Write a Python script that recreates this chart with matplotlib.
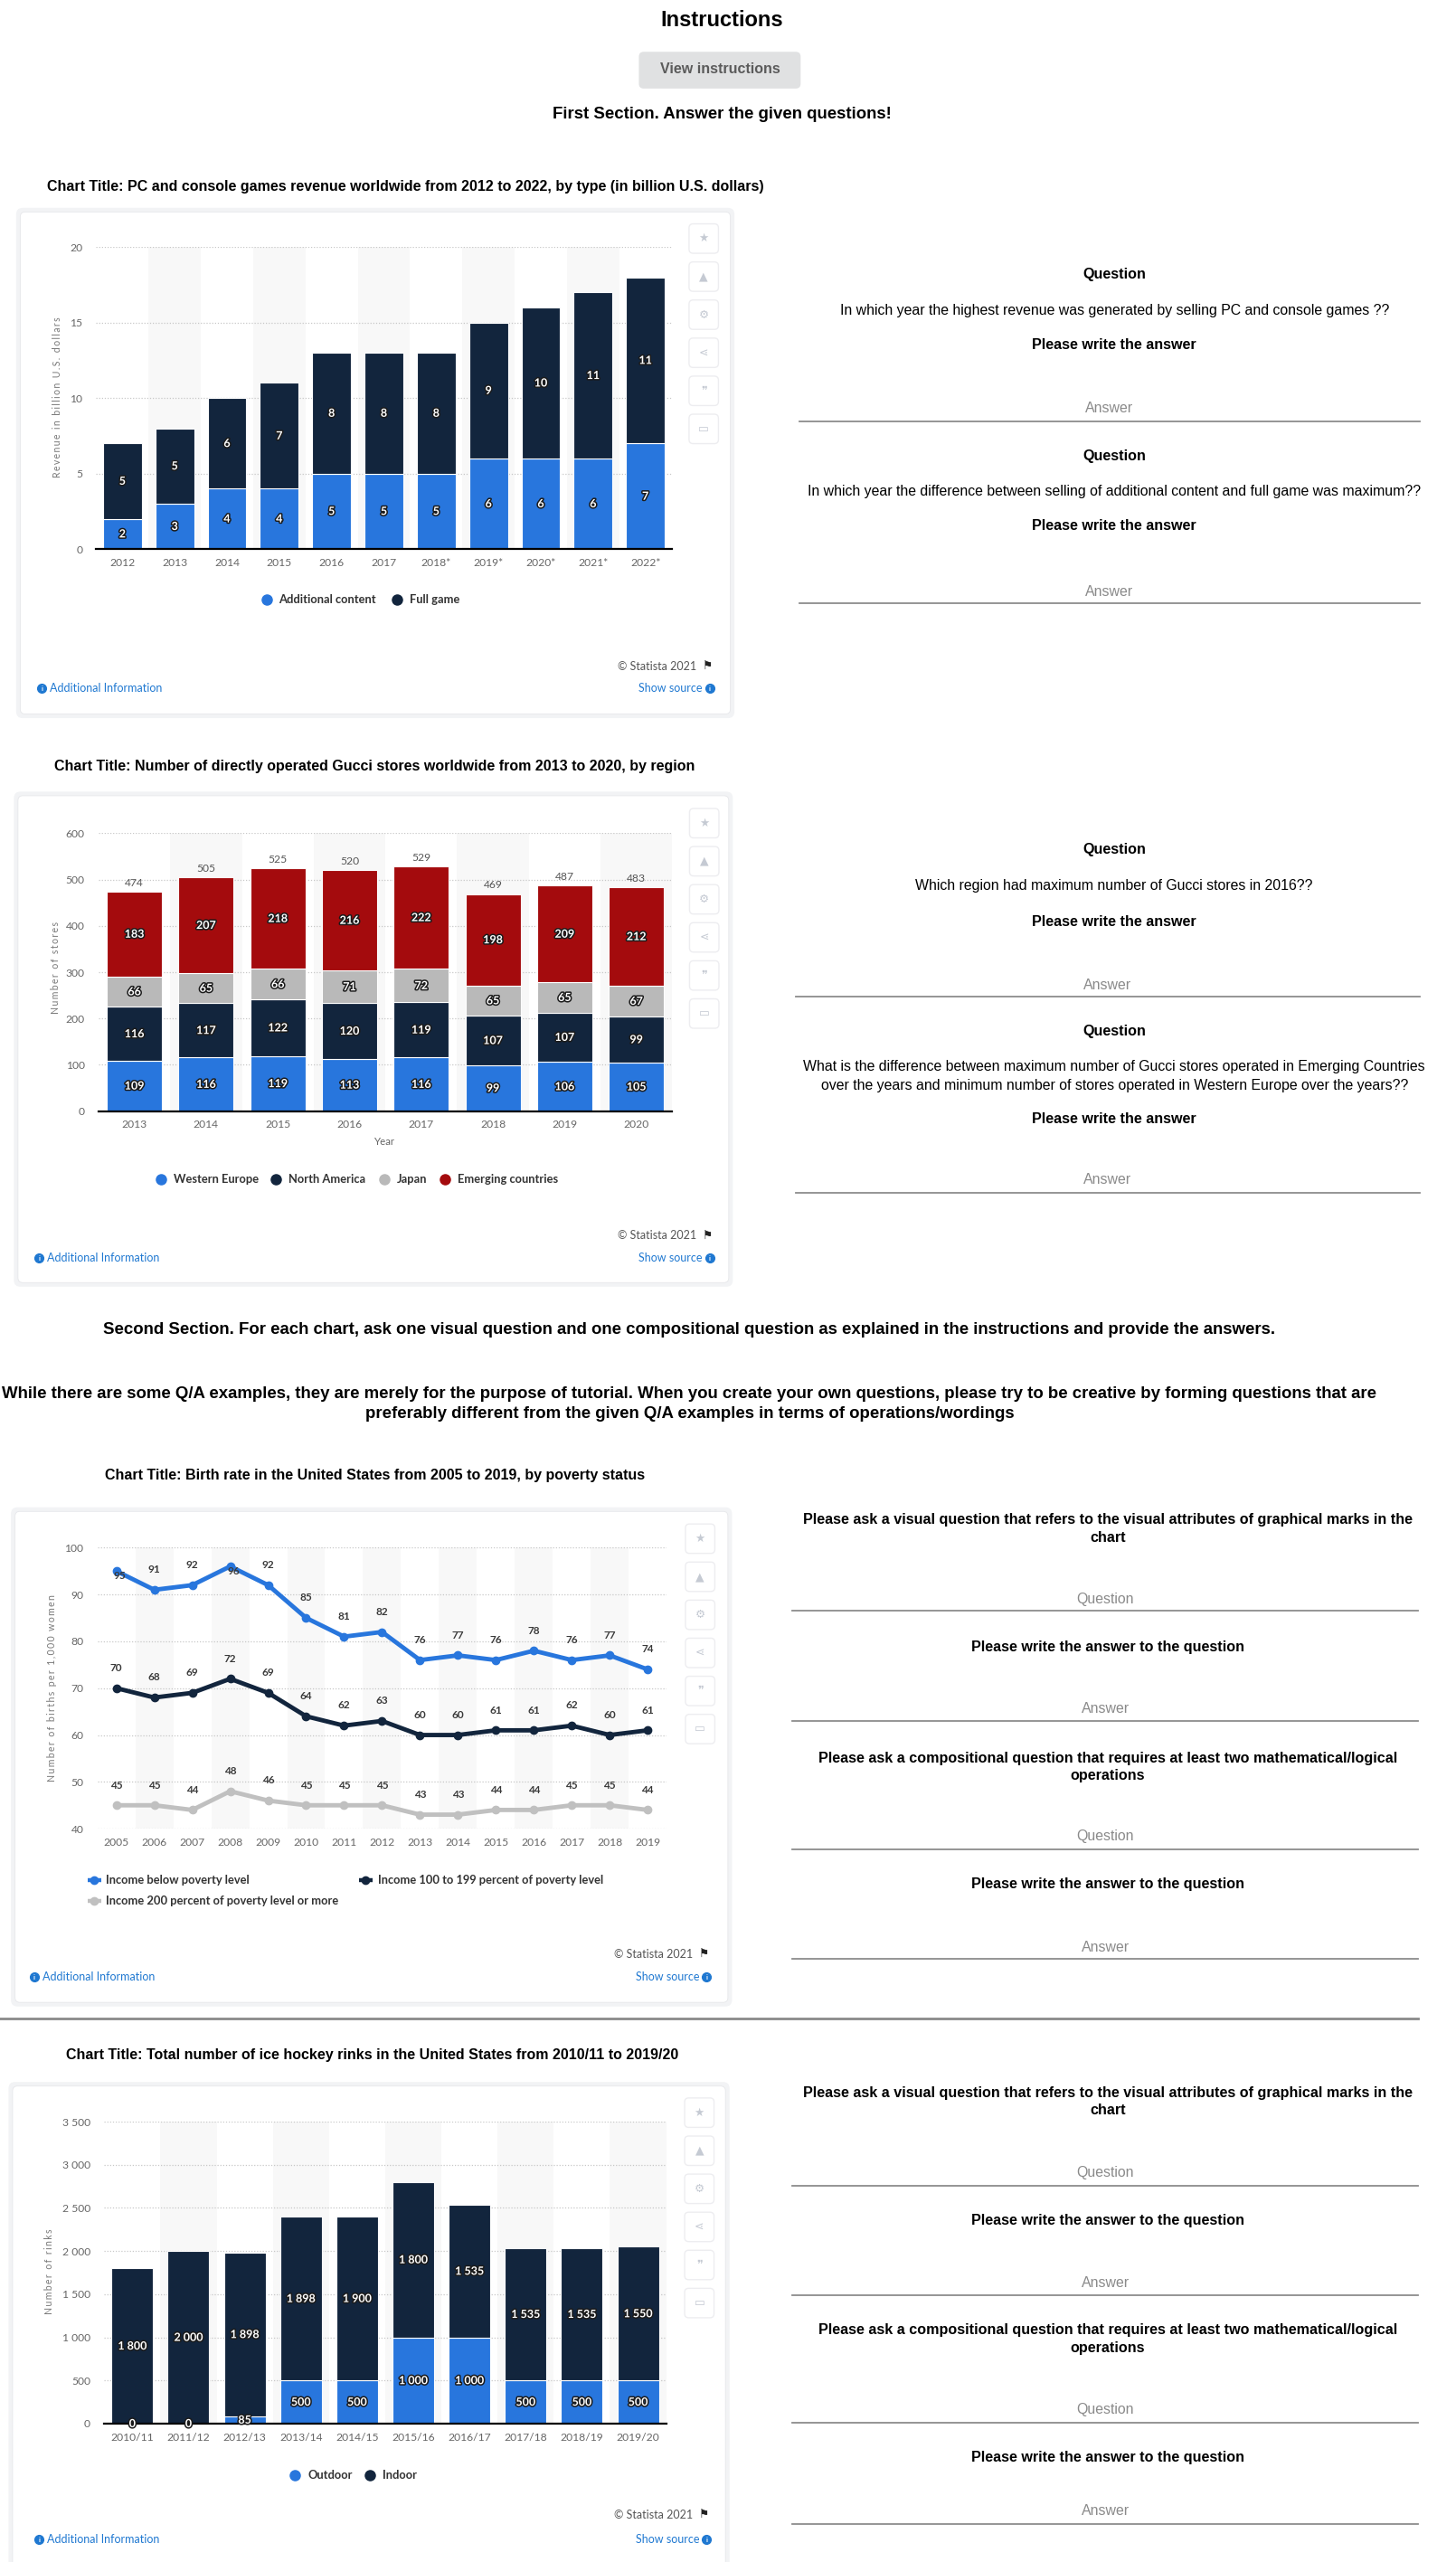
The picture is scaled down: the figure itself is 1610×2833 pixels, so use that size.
import matplotlib
matplotlib.use('Agg')
import matplotlib.pyplot as plt
from matplotlib.patches import FancyBboxPatch
import matplotlib.patheffects as pe

# ---------------- data ----------------
games_years = ['2012', '2013', '2014', '2015', '2016', '2017', '2018*', '2019*', '2020*', '2021*', '2022*']
games_additional = [2, 3, 4, 4, 5, 5, 5, 6, 6, 6, 7]
games_full = [5, 5, 6, 7, 8, 8, 8, 9, 10, 11, 11]

gucci_years = ['2013', '2014', '2015', '2016', '2017', '2018', '2019', '2020']
gucci_western_europe = [109, 116, 119, 113, 116, 99, 106, 105]
gucci_north_america = [116, 117, 122, 120, 119, 107, 107, 99]
gucci_japan = [66, 65, 66, 71, 72, 65, 65, 67]
gucci_emerging = [183, 207, 218, 216, 222, 198, 209, 212]

birth_years = ['2005', '2006', '2007', '2008', '2009', '2010', '2011', '2012',
               '2013', '2014', '2015', '2016', '2017', '2018', '2019']
birth_below = [95, 91, 92, 96, 92, 85, 81, 82, 76, 77, 76, 78, 76, 77, 74]
birth_100_199 = [70, 68, 69, 72, 69, 64, 62, 63, 60, 60, 61, 61, 62, 60, 61]
birth_200_plus = [45, 45, 44, 48, 46, 45, 45, 45, 43, 43, 44, 44, 45, 45, 44]

rink_seasons = ['2010/11', '2011/12', '2012/13', '2013/14', '2014/15',
                '2015/16', '2016/17', '2017/18', '2018/19', '2019/20']
rink_outdoor = [0, 0, 85, 500, 500, 1000, 1000, 500, 500, 500]
rink_indoor = [1800, 2000, 1898, 1898, 1900, 1800, 1535, 1535, 1535, 1550]

# ---------------- style ----------------
BLUE = '#2876dd'
NAVY = '#12253d'
GRAY = '#b9b9b9'
RED = '#a40b0d'
LINE_GRAY = '#c0c0c0'
LINK = '#1f78d1'
PAGE_FONT = ['Liberation Sans', 'DejaVu Sans']
CHART_FONT = ['Lato', 'DejaVu Sans']
SYM_FONT = ['DejaVu Sans']

W, H = 891.1, 1568.0
fig = plt.figure(figsize=(16.1, 28.33), dpi=100)
fig.patch.set_facecolor('white')

bg = fig.add_axes([0, 0, 1, 1])
bg.set_xlim(0, W)
bg.set_ylim(H, 0)
bg.axis('off')

Q_BOLD = 11.6
Q_REG = 11.4


def T(x, y, s, size=Q_REG, weight='normal', color='black', ha='center', va='center',
      family=PAGE_FONT, **kw):
    return bg.text(x, y, s, fontsize=size, fontweight=weight, color=color, ha=ha, va=va,
                   family=family, **kw)


def make_axes(x0, x1, ytop, ybot):
    ax = fig.add_axes([x0 / W, 1 - ybot / H, (x1 - x0) / W, (ybot - ytop) / H])
    ax.set_facecolor('none')
    return ax


def style_axes(ax, yticks, ylabels, xlabels, baseline=True):
    for s in ['top', 'right', 'left']:
        ax.spines[s].set_visible(False)
    if baseline:
        ax.spines['bottom'].set_color('black')
        ax.spines['bottom'].set_linewidth(1.6)
        ax.spines['bottom'].set_zorder(5)
    else:
        ax.spines['bottom'].set_visible(False)
    ax.set_yticks(yticks)
    ax.set_yticklabels(ylabels, family=CHART_FONT)
    ax.set_xticks(range(len(xlabels)))
    ax.set_xticklabels(xlabels, family=CHART_FONT)
    ax.tick_params(axis='y', length=0, pad=11, colors='#666666', labelsize=8.7)
    ax.tick_params(axis='x', length=0, pad=7, colors='#666666', labelsize=8.7)
    ax.grid(axis='y', linestyle=(0, (1, 1.5)), color='#c8c8c8', linewidth=0.9)
    ax.set_axisbelow(True)
    for i in range(len(xlabels)):
        if i % 2 == 1:
            ax.axvspan(i - 0.5, i + 0.5, color='#f8f8f8', zorder=0, lw=0)


def card(x0, y0, x1, y1):
    bg.add_patch(FancyBboxPatch((x0 - 2.5, y0 - 2.5), x1 - x0 + 5, y1 - y0 + 5,
                                boxstyle='round,pad=0,rounding_size=4', fc='#f2f3f5', ec='none'))
    bg.add_patch(FancyBboxPatch((x0, y0), x1 - x0, y1 - y0,
                                boxstyle='round,pad=0,rounding_size=3', fc='white', ec='#e6e7ea', lw=0.6))


def icons(xc, ys):
    glyphs = ['\u2605', '\u25B2', '\u2699', '\u22D6', '\u275E', '\u25AD']
    for y, g in zip(ys, glyphs):
        bg.add_patch(FancyBboxPatch((xc - 9, y - 9), 18, 18,
                                    boxstyle='round,pad=0,rounding_size=2.5', fc='white',
                                    ec='#ededf0', lw=1.0))
        T(xc, y, g, size=9, color='#c5cad3', family=SYM_FONT)


def info_icon(x, y):
    bg.plot([x], [y], 'o', ms=7, color=LINK, zorder=5)
    T(x, y + 0.3, 'i', size=5.5, weight='bold', color='white', family=CHART_FONT, zorder=6)


def footer(xl, xr, y_stat, y_info):
    T(xr - 9, y_stat, '\u00a9 Statista 2021', size=9, color='#555555', ha='right', family=CHART_FONT)
    T(xr + 1, y_stat, '\u2691', size=9, color='#222222', ha='right', family=SYM_FONT)
    info_icon(xl, y_info)
    T(xl + 5, y_info, 'Additional Information', size=9, color=LINK, ha='left', family=CHART_FONT)
    T(xr - 5, y_info, 'Show source', size=9, color=LINK, ha='right', family=CHART_FONT)
    info_icon(xr - 0.5, y_info)


def dot_legend(items, y):
    for x, color, label in items:
        bg.plot([x], [y], 'o', ms=8, color=color)
        T(x + 7.5, y, label, size=9.3, weight='bold', color='#333333', ha='left', family=CHART_FONT)


def spaced(s):
    return '\u2009'.join(s)


def ylabel(x, y, s):
    T(x, y, spaced(s), size=7.6, color='#777777', rotation=90, family=CHART_FONT)


def field(x0, x1, y_text, y_line, placeholder):
    T((x0 + x1) / 2, y_text, placeholder, size=Q_REG, color='#8a8a8a')
    bg.plot([x0, x1], [y_line, y_line], color='#8c8c8c', lw=1.3)


STROKE = [pe.withStroke(linewidth=2.2, foreground='#1b1b1b')]


def seg_label(ax, x, y, s):
    ax.text(x, y, s, ha='center', va='center', color='white', fontsize=9, fontweight='bold',
            family=CHART_FONT, path_effects=STROKE, zorder=6, clip_on=False)


def fmt_thousands(v):
    return '{:,}'.format(v).replace(',', ' ')


# ---------------- header ----------------
T(442, 12.3, 'Instructions', size=17, weight='bold')
bg.add_patch(FancyBboxPatch((391, 31.7), 99, 22.5, boxstyle='round,pad=0,rounding_size=3',
                            fc='#e0e1e2', ec='none'))
T(441, 42.5, 'View instructions', size=11.5, weight='bold', color='#5b5b5b')
T(442, 70, 'First Section. Answer the given questions!', size=13.4, weight='bold')

# ---------------- chart 1 ----------------
T(29, 114.4, 'Chart Title: PC and console games revenue worldwide from 2012 to 2022, by type (in billion U.S. dollars)',
  size=11.5, weight='bold', ha='left')
card(12.4, 129.7, 447, 437)
ax1 = make_axes(58.9, 411, 151.2, 336)
ax1.set_xlim(-0.5, 10.5)
ax1.set_ylim(0, 20)
style_axes(ax1, [0, 5, 10, 15, 20], ['0', '5', '10', '15', '20'], games_years)
x1 = list(range(len(games_years)))
ax1.bar(x1, games_additional, 0.74, color=BLUE, edgecolor='white', linewidth=0.8, zorder=2)
ax1.bar(x1, games_full, 0.74, bottom=games_additional, color=NAVY, edgecolor='white', linewidth=0.8, zorder=2)
for i in x1:
    seg_label(ax1, i, games_additional[i] / 2, str(games_additional[i]))
    seg_label(ax1, i, games_additional[i] + games_full[i] / 2, str(games_full[i]))
ylabel(35.3, 243, 'Revenue in billion U.S. dollars')
dot_legend([(163, BLUE, 'Additional content'), (243, NAVY, 'Full game')], 367)
icons(430.7, [146, 169.3, 192.6, 215.9, 239.2, 262.5])
footer(25.6, 435, 407.7, 421)

# right side Q&A 1
T(682, 168, 'Question', size=Q_BOLD, weight='bold')
T(682, 190, 'In which year the highest revenue was generated by selling PC and console games ??')
T(682, 211, 'Please write the answer', size=Q_BOLD, weight='bold')
field(489, 869, 250, 258, 'Answer')
T(682, 279, 'Question', size=Q_BOLD, weight='bold')
T(682, 301, 'In which year the difference between selling of additional content and full game was maximum??')
T(682, 322, 'Please write the answer', size=Q_BOLD, weight='bold')
field(489, 869, 362, 369, 'Answer')

# ---------------- chart 2 ----------------
T(33, 469, 'Chart Title: Number of directly operated Gucci stores worldwide from 2013 to 2020, by region',
  size=11.5, weight='bold', ha='left')
card(11, 487, 446, 785)
ax2 = make_axes(60.3, 411.4, 510, 680)
ax2.set_xlim(-0.5, 7.5)
ax2.set_ylim(0, 600)
style_axes(ax2, [0, 100, 200, 300, 400, 500, 600], ['0', '100', '200', '300', '400', '500', '600'], gucci_years)
x2 = list(range(len(gucci_years)))
bottom = [0] * len(x2)
for vals, color in [(gucci_western_europe, BLUE), (gucci_north_america, NAVY),
                    (gucci_japan, GRAY), (gucci_emerging, RED)]:
    ax2.bar(x2, vals, 0.77, bottom=bottom, color=color, edgecolor='white', linewidth=0.8, zorder=2)
    for i in x2:
        seg_label(ax2, i, bottom[i] + vals[i] / 2, str(vals[i]))
    bottom = [b + v for b, v in zip(bottom, vals)]
for i in x2:
    ax2.annotate(str(bottom[i]), (i, bottom[i]), xytext=(0, 3), textcoords='offset points',
                 ha='center', va='bottom', fontsize=8.7, color='#555555', family=CHART_FONT)
ylabel(33.8, 592, 'Number of stores')
T(235, 699, 'Year', size=8.3, color='#666666', family=CHART_FONT)
dot_legend([(98.7, BLUE, 'Western Europe'), (169, NAVY, 'North America'),
            (235.5, GRAY, 'Japan'), (272.4, RED, 'Emerging countries')], 722)
icons(431, [503.8, 527.1, 550.4, 573.7, 597, 620.3])
footer(24, 435, 756, 770)

# right side Q&A 2
T(682, 520, 'Question', size=Q_BOLD, weight='bold')
T(682, 542, 'Which region had maximum number of Gucci stores in 2016??')
T(682, 564, 'Please write the answer', size=Q_BOLD, weight='bold')
field(487, 869, 603, 610, 'Answer')
T(682, 631, 'Question', size=Q_BOLD, weight='bold')
T(682, 653, 'What is the difference between maximum number of Gucci stores operated in Emerging Countries')
T(682, 664.5, 'over the years and minimum number of stores operated in Western Europe over the years??')
T(682, 685, 'Please write the answer', size=Q_BOLD, weight='bold')
field(487, 869, 722, 730, 'Answer')

# ---------------- second section ----------------
T(422, 814, 'Second Section. For each chart, ask one visual question and one compositional question as explained in the instructions and provide the answers.',
  size=13.4, weight='bold')
T(422, 853, 'While there are some Q/A examples, they are merely for the purpose of tutorial. When you create your own questions, please try to be creative by forming questions that are',
  size=13.4, weight='bold')
T(422, 865.5, 'preferably different from the given Q/A examples in terms of operations/wordings',
  size=13.4, weight='bold')

# ---------------- chart 3 ----------------
T(64, 903, 'Chart Title: Birth rate in the United States from 2005 to 2019, by poverty status',
  size=11.5, weight='bold', ha='left')
card(9.2, 925, 445.5, 1225.5)
ax3 = make_axes(59.6, 408, 947.2, 1119.2)
ax3.set_xlim(-0.5, 14.5)
ax3.set_ylim(40, 100)
style_axes(ax3, [40, 50, 60, 70, 80, 90, 100], ['40', '50', '60', '70', '80', '90', '100'],
           birth_years, baseline=False)
x3 = list(range(len(birth_years)))
for vals, color in [(birth_200_plus, LINE_GRAY), (birth_100_199, NAVY), (birth_below, BLUE)]:
    ax3.plot(x3, vals, color=color, lw=3.5, marker='o', ms=6, zorder=3, clip_on=False)
    for i in x3:
        off = (0, 16)
        if vals is birth_below and i in (0, 3):
            off = (3, -4)
        ax3.annotate(str(vals[i]), (i, vals[i]), xytext=off, textcoords='offset points',
                     ha='center', va='center', fontsize=8.5, fontweight='bold',
                     color='#3a3a3a', family=CHART_FONT, zorder=6)
ylabel(31.7, 1033, 'Number of births per 1,000 women')
for (xa, xt, y, color, label) in [(53.5, 64.9, 1150.5, BLUE, 'Income below poverty level'),
                                  (219.6, 231.2, 1150.5, NAVY, 'Income 100 to 199 percent of poverty level'),
                                  (53.5, 64.9, 1163.5, LINE_GRAY, 'Income 200 percent of poverty level or more')]:
    bg.plot([xa, xa + 8.5], [y, y], color=color, lw=3.2, solid_capstyle='butt')
    bg.plot([xa + 4.2], [y], marker='o', ms=6, color=color)
    T(xt, y, label, size=9.3, weight='bold', color='#333333', ha='left', family=CHART_FONT)
icons(428.5, [941.7, 965, 988.3, 1011.6, 1034.9, 1058.2])
footer(21, 433, 1196, 1210)
bg.plot([0, 868], [1235.6, 1235.6], color='#8a8a8a', lw=2)

# right side 3
T(678, 930, 'Please ask a visual question that refers to the visual attributes of graphical marks in the', size=Q_BOLD, weight='bold')
T(678, 941, 'chart', size=Q_BOLD, weight='bold')
field(485, 868, 979, 986, 'Question')
T(678, 1008, 'Please write the answer to the question', size=Q_BOLD, weight='bold')
field(485, 868, 1046, 1053, 'Answer')
T(678, 1076, 'Please ask a compositional question that requires at least two mathematical/logical', size=Q_BOLD, weight='bold')
T(678, 1087, 'operations', size=Q_BOLD, weight='bold')
field(485, 868, 1124, 1132, 'Question')
T(678, 1153, 'Please write the answer to the question', size=Q_BOLD, weight='bold')
field(485, 868, 1192, 1199, 'Answer')

# ---------------- chart 4 ----------------
T(40.2, 1258, 'Chart Title: Total number of ice hockey rinks in the United States from 2010/11 to 2019/20',
  size=11.5, weight='bold', ha='left')
card(7.7, 1276.7, 444, 1585)
ax4 = make_axes(63.8, 407.7, 1298.5, 1483.3)
ax4.set_xlim(-0.5, 9.5)
ax4.set_ylim(0, 3500)
rticks = [0, 500, 1000, 1500, 2000, 2500, 3000, 3500]
style_axes(ax4, rticks, [fmt_thousands(v) for v in rticks], rink_seasons)
x4 = list(range(len(rink_seasons)))
ax4.bar(x4, rink_outdoor, 0.74, color=BLUE, edgecolor='white', linewidth=0.8, zorder=2)
ax4.bar(x4, rink_indoor, 0.74, bottom=rink_outdoor, color=NAVY, edgecolor='white', linewidth=0.8, zorder=2)
for i in x4:
    seg_label(ax4, i, rink_outdoor[i] / 2, fmt_thousands(rink_outdoor[i]))
    seg_label(ax4, i, rink_outdoor[i] + rink_indoor[i] / 2, fmt_thousands(rink_indoor[i]))
ylabel(30, 1390, 'Number of rinks')
dot_legend([(180.7, BLUE, 'Outdoor'), (226.4, NAVY, 'Indoor')], 1514.6)
icons(428, [1293, 1316.3, 1339.6, 1362.9, 1386.2, 1409.5])
footer(24, 433, 1539, 1554)

# right side 4
T(678, 1281, 'Please ask a visual question that refers to the visual attributes of graphical marks in the', size=Q_BOLD, weight='bold')
T(678, 1291.5, 'chart', size=Q_BOLD, weight='bold')
field(485, 868, 1329.6, 1337.6, 'Question')
T(678, 1359, 'Please write the answer to the question', size=Q_BOLD, weight='bold')
field(485, 868, 1397, 1404.5, 'Answer')
T(678, 1426, 'Please ask a compositional question that requires at least two mathematical/logical', size=Q_BOLD, weight='bold')
T(678, 1437, 'operations', size=Q_BOLD, weight='bold')
field(485, 868, 1475, 1483, 'Question')
T(678, 1504, 'Please write the answer to the question', size=Q_BOLD, weight='bold')
field(485, 868, 1537, 1544.7, 'Answer')

fig.savefig('out.png', dpi=100, facecolor='white')
